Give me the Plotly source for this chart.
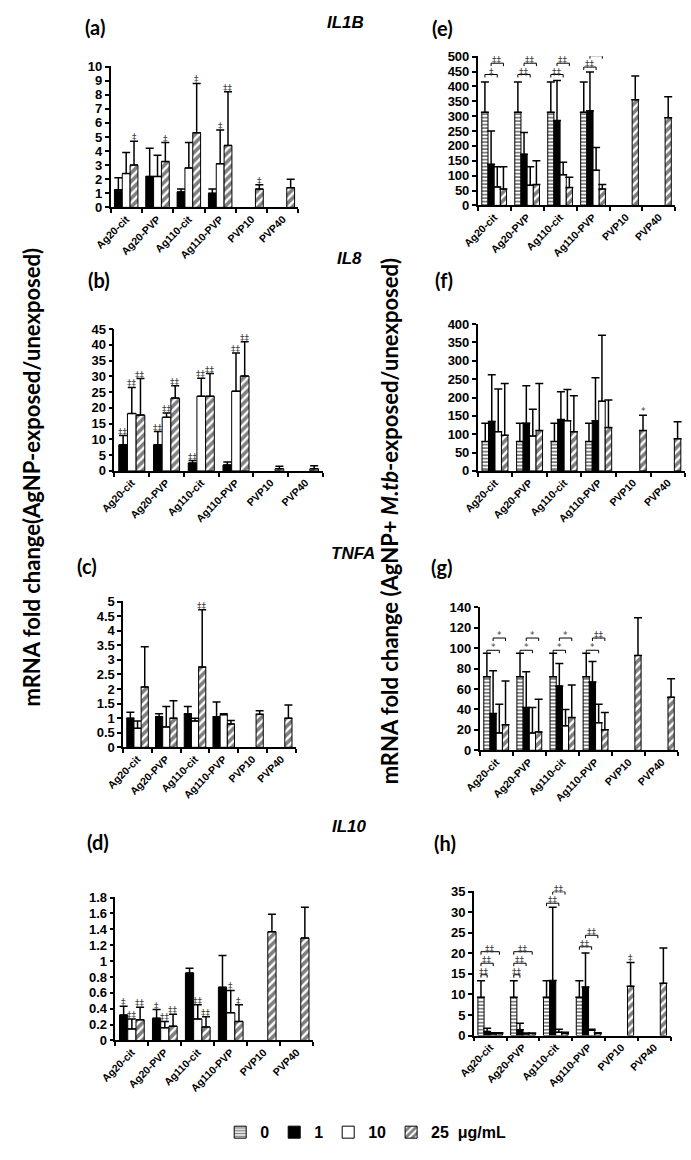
import plotly.graph_objects as go

W, H = 691, 1160

CATEGORIES = ["Ag20-cit", "Ag20-PVP", "Ag110-cit", "Ag110-PVP", "PVP10", "PVP40"]
DOSES = ["0", "1", "10", "25"]
GENES = ["IL1B", "IL8", "TNFA", "IL10"]

# ---------------- AgNP-exposed (left column) ----------------
IL1B_1 = [1.25, 2.2, 1.1, 1.0, None, None]
IL1B_1_ERR = [0.85, 2.0, 0.2, 0.3, 0, 0]
IL1B_10 = [2.4, 2.2, 2.8, 3.1, None, None]
IL1B_10_ERR = [1.5, 1.5, 1.8, 2.4, 0, 0]
IL1B_25 = [3.0, 3.25, 5.3, 4.4, 1.3, 1.4]
IL1B_25_ERR = [1.7, 1.35, 3.5, 3.8, 0.3, 0.6]

IL8_1 = [8.3, 8.3, 2.5, 1.9, None, None]
IL8_1_ERR = [2.9, 4.2, 0.8, 0.9, 0, 0]
IL8_10 = [18.2, 17.0, 23.7, 25.3, None, None]
IL8_10_ERR = [8.3, 1.4, 5.7, 12.1, 0, 0]
IL8_25 = [17.7, 23.1, 23.7, 30.1, 0.7, 0.7]
IL8_25_ERR = [11.6, 3.9, 7.2, 10.9, 0.8, 0.9]

TNFA_1 = [1.0, 1.05, 1.15, 1.05, None, None]
TNFA_1_ERR = [0.2, 0.1, 0.25, 0.5, 0, 0]
TNFA_10 = [0.65, 0.7, 0.9, 1.12, None, None]
TNFA_10_ERR = [0.25, 0.7, 0.1, 0.03, 0, 0]
TNFA_25 = [2.07, 1.0, 2.75, 0.8, 1.13, 1.0]
TNFA_25_ERR = [1.38, 0.6, 1.97, 0.12, 0.12, 0.45]

IL10_1 = [0.32, 0.28, 0.85, 0.67, None, None]
IL10_1_ERR = [0.11, 0.11, 0.06, 0.40, 0, 0]
IL10_10 = [0.145, 0.16, 0.27, 0.35, None, None]
IL10_10_ERR = [0.125, 0.08, 0.18, 0.28, 0, 0]
IL10_25 = [0.26, 0.18, 0.17, 0.24, 1.37, 1.29]
IL10_25_ERR = [0.16, 0.15, 0.13, 0.21, 0.22, 0.39]

# ---------------- AgNP + M.tb-exposed (right column) ----------------
IL1B_MTB_0 = [313, 313, 313, 313, None, None]
IL1B_MTB_0_ERR = [102, 102, 102, 102, 0, 0]
IL1B_MTB_1 = [138, 172, 285, 318, None, None]
IL1B_MTB_1_ERR = [112, 73, 135, 130, 0, 0]
IL1B_MTB_10 = [62, 68, 103, 118, None, None]
IL1B_MTB_10_ERR = [68, 62, 42, 77, 0, 0]
IL1B_MTB_25 = [55, 70, 60, 55, 355, 295]
IL1B_MTB_25_ERR = [75, 80, 35, 15, 80, 70]

IL8_MTB_0 = [80, 80, 80, 80, None, None]
IL8_MTB_0_ERR = [50, 50, 50, 50, 0, 0]
IL8_MTB_1 = [135, 130, 140, 137, None, None]
IL8_MTB_1_ERR = [127, 102, 76, 117, 0, 0]
IL8_MTB_10 = [107, 95, 137, 190, None, None]
IL8_MTB_10_ERR = [116, 73, 85, 180, 0, 0]
IL8_MTB_25 = [97, 110, 107, 118, 110, 88]
IL8_MTB_25_ERR = [141, 128, 98, 75, 42, 46]

TNFA_MTB_0 = [72, 72, 72, 72, None, None]
TNFA_MTB_0_ERR = [23, 23, 23, 23, 0, 0]
TNFA_MTB_1 = [36, 42, 63, 67, None, None]
TNFA_MTB_1_ERR = [42, 35, 22, 20, 0, 0]
TNFA_MTB_10 = [17, 17, 24, 27, None, None]
TNFA_MTB_10_ERR = [28, 25, 16, 18, 0, 0]
TNFA_MTB_25 = [25, 18, 32, 20, 93, 52]
TNFA_MTB_25_ERR = [43, 32, 32, 17, 37, 18]

IL10_MTB_0 = [9.3, 9.3, 9.3, 9.3, None, None]
IL10_MTB_0_ERR = [4.0, 4.0, 4.0, 4.0, 0, 0]
IL10_MTB_1 = [1.0, 1.4, 13.4, 11.8, None, None]
IL10_MTB_1_ERR = [0.8, 1.6, 17.8, 8.3, 0, 0]
IL10_MTB_10 = [0.4, 0.4, 0.8, 1.3, None, None]
IL10_MTB_10_ERR = [0.3, 0.2, 0.7, 0.2, 0, 0]
IL10_MTB_25 = [0.5, 0.5, 0.5, 0.5, 12.0, 12.7]
IL10_MTB_25_ERR = [0.2, 0.1, 0.3, 0.2, 5.8, 8.6]

# significance marks above single bars: (group index, dose, label)
SIG_IL1B = [(0, "25", "‡"), (1, "25", "‡"), (2, "25", "‡"), (3, "10", "‡"), (3, "25", "‡‡"), (4, "25", "‡")]
SIG_IL8 = [(0, "1", "‡‡"), (0, "10", "‡‡"), (0, "25", "‡‡"),
           (1, "1", "‡‡"), (1, "10", "‡‡"), (1, "25", "‡‡"),
           (2, "1", "‡‡"), (2, "10", "‡‡"), (2, "25", "‡‡"),
           (3, "10", "‡‡"), (3, "25", "‡‡")]
SIG_TNFA = [(2, "25", "‡‡")]
SIG_IL10 = [(0, "1", "‡"), (0, "10", "‡‡"), (0, "25", "‡‡"),
            (1, "1", "‡"), (1, "10", "‡‡"), (1, "25", "‡‡"),
            (2, "10", "‡‡"), (2, "25", "‡‡"),
            (3, "10", "‡"), (3, "25", "‡")]
SIG_IL8_MTB = [(4, "25", "*")]
SIG_IL10_MTB = [(4, "25", "‡")]

# comparison brackets: (group index, from dose, to dose, level, label)
BR_IL1B_MTB = [(0, "0", "10", 440, "‡"), (0, "1", "25", 478, "‡‡"),
               (1, "0", "10", 440, "‡‡"), (1, "1", "25", 478, "‡‡"),
               (2, "0", "10", 440, "‡‡"), (2, "1", "25", 478, "‡‡"),
               (3, "0", "10", 465, "‡‡"), (3, "1", "25", 503, "‡‡")]
BR_TNFA_MTB = [(0, "0", "10", 98, "*"), (0, "1", "25", 110, "*"),
               (1, "0", "10", 98, "*"), (1, "1", "25", 110, "*"),
               (2, "0", "10", 98, "*"), (2, "1", "25", 110, "*"),
               (3, "0", "10", 98, "*"), (3, "1", "25", 110, "‡‡")]
BR_IL10_MTB = [(0, "0", "1", 14.8, "‡‡"), (0, "0", "10", 17.6, "‡‡"), (0, "0", "25", 20.4, "‡‡"),
               (1, "0", "1", 14.8, "‡‡"), (1, "0", "10", 17.6, "‡‡"), (1, "0", "25", 20.4, "‡‡"),
               (2, "0", "10", 32.2, "‡‡"), (2, "1", "25", 35.0, "‡‡"),
               (3, "0", "10", 21.6, "‡‡"), (3, "1", "25", 24.4, "‡‡")]

# ---------------- layout helpers ----------------
BARGAP = 0.25
STYLE = {
    "0": dict(color="white", pattern=dict(shape="-", fgcolor="black", bgcolor="white", size=3.5, solidity=0.5)),
    "1": dict(color="black"),
    "10": dict(color="white"),
    "25": dict(color="white", pattern=dict(shape="/", fgcolor="black", bgcolor="white", size=6, solidity=0.6)),
}
LEGEND_NAMES = {"0": "<b>0</b>", "1": "<b>1</b>", "10": "<b>10</b>", "25": "<b>25\u00a0\u00a0μg/mL</b>"}

PANELS = [
    dict(key="a", box=(95, 60, 288, 203), ymax=10, dtick=1, ntick=10,
         series=[("1", IL1B_1, IL1B_1_ERR), ("10", IL1B_10, IL1B_10_ERR), ("25", IL1B_25, IL1B_25_ERR)],
         sig=SIG_IL1B, br=[]),
    dict(key="b", box=(99, 326, 313, 470), ymax=45, dtick=5, ntick=9,
         series=[("1", IL8_1, IL8_1_ERR), ("10", IL8_10, IL8_10_ERR), ("25", IL8_25, IL8_25_ERR)],
         sig=SIG_IL8, br=[]),
    dict(key="c", box=(108, 602, 285, 750), ymax=5, dtick=0.5, ntick=10,
         series=[("1", TNFA_1, TNFA_1_ERR), ("10", TNFA_10, TNFA_10_ERR), ("25", TNFA_25, TNFA_25_ERR)],
         sig=SIG_TNFA, br=[]),
    dict(key="d", box=(100, 902, 303, 1047), ymax=1.8, dtick=0.2, ntick=9,
         series=[("1", IL10_1, IL10_1_ERR), ("10", IL10_10, IL10_10_ERR), ("25", IL10_25, IL10_25_ERR)],
         sig=SIG_IL10, br=[]),
    dict(key="e", box=(472, 50, 675, 201), ymax=500, dtick=50, ntick=10,
         series=[("0", IL1B_MTB_0, IL1B_MTB_0_ERR), ("1", IL1B_MTB_1, IL1B_MTB_1_ERR),
                 ("10", IL1B_MTB_10, IL1B_MTB_10_ERR), ("25", IL1B_MTB_25, IL1B_MTB_25_ERR)],
         sig=[], br=BR_IL1B_MTB),
    dict(key="f", box=(472, 321, 685, 470), ymax=400, dtick=50, ntick=8,
         series=[("0", IL8_MTB_0, IL8_MTB_0_ERR), ("1", IL8_MTB_1, IL8_MTB_1_ERR),
                 ("10", IL8_MTB_10, IL8_MTB_10_ERR), ("25", IL8_MTB_25, IL8_MTB_25_ERR)],
         sig=SIG_IL8_MTB, br=[]),
    dict(key="g", box=(474, 608, 678, 753), ymax=140, dtick=20, ntick=7,
         series=[("0", TNFA_MTB_0, TNFA_MTB_0_ERR), ("1", TNFA_MTB_1, TNFA_MTB_1_ERR),
                 ("10", TNFA_MTB_10, TNFA_MTB_10_ERR), ("25", TNFA_MTB_25, TNFA_MTB_25_ERR)],
         sig=[], br=BR_TNFA_MTB),
    dict(key="h", box=(468, 896, 670, 1042), ymax=35, dtick=5, ntick=7,
         series=[("0", IL10_MTB_0, IL10_MTB_0_ERR), ("1", IL10_MTB_1, IL10_MTB_1_ERR),
                 ("10", IL10_MTB_10, IL10_MTB_10_ERR), ("25", IL10_MTB_25, IL10_MTB_25_ERR)],
         sig=SIG_IL10_MTB, br=BR_IL10_MTB),
]

PANEL_LABEL_POS = {"a": (79, 20), "b": (83, 277), "c": (71, 566), "d": (82, 846),
                   "e": (436, 21), "f": (437, 277), "g": (435, 567), "h": (438, 847)}
GENE_POS = [(336, 16), (340, 255), (344, 554), (340, 830)]

TICKF = dict(family="Liberation Sans", size=13, color="black")
XTF = dict(family="Liberation Sans", size=10.5, color="black")
SIGF = dict(family="DejaVu Sans", size=9, color="#3c3c3c")


def bar_center(group, idx, n):
    span = 1 - BARGAP
    w = span / n
    return group - span / 2 + w * (idx + 0.5)


def paper_note(px, py, text, font, angle=0):
    return dict(x=px / W, y=1 - py / H, xref="paper", yref="paper", xanchor="center",
                yanchor="middle", text=text, showarrow=False, font=font, textangle=angle)


fig = go.Figure()
annotations = []
layout_axes = {}

for i, p in enumerate(PANELS, start=1):
    xa = "x" if i == 1 else f"x{i}"
    ya = "y" if i == 1 else f"y{i}"
    x0, y0, x1, y1 = p["box"]
    n = len(p["series"])
    order = [s[0] for s in p["series"]]
    for dose, vals, errs in p["series"]:
        st = STYLE[dose]
        marker = dict(color=st["color"], line=dict(color="black", width=1))
        if "pattern" in st:
            marker["pattern"] = st["pattern"]
        fig.add_trace(go.Bar(
            x=list(range(len(CATEGORIES))), y=vals, xaxis=xa, yaxis=ya,
            name=LEGEND_NAMES[dose], legendgroup=dose, showlegend=(p["key"] == "e"),
            marker=marker,
            error_y=dict(type="data", symmetric=False, array=errs, arrayminus=[0] * len(errs),
                         color="black", thickness=1.5, width=4),
            hoverinfo="x+y",
        ))
    for g, dose, lab in p["sig"]:
        idx = order.index(dose)
        vals = p["series"][idx][1]
        errs = p["series"][idx][2]
        annotations.append(dict(x=bar_center(g, idx, n), y=vals[g] + errs[g], xref=xa, yref=ya,
                                xanchor="center", text=lab, showarrow=False, yanchor="bottom",
                                yshift=-3, font=SIGF))
    if p["br"]:
        bx, by = [], []
        drop = p["ymax"] * 3 / (y1 - y0)
        for g, d_from, d_to, lvl, lab in p["br"]:
            xa_ = bar_center(g, order.index(d_from), n)
            xb_ = bar_center(g, order.index(d_to), n)
            bx += [xa_, xa_, xb_, xb_, None]
            by += [lvl - drop, lvl, lvl, lvl - drop, None]
            annotations.append(dict(x=(xa_ + xb_) / 2, y=lvl, xref=xa, yref=ya, text=lab,
                                    xanchor="center", showarrow=False, yanchor="bottom",
                                    yshift=-4, font=SIGF))
        fig.add_trace(go.Scatter(x=bx, y=by, xaxis=xa, yaxis=ya, mode="lines",
                                 line=dict(color="black", width=1), showlegend=False,
                                 hoverinfo="skip", cliponaxis=False))

    yvals = [round(k * p["dtick"], 6) for k in range(p["ntick"] + 1)]
    layout_axes["xaxis" if i == 1 else f"xaxis{i}"] = dict(
        domain=[x0 / W, x1 / W], range=[-0.5, 5.5], anchor=ya,
        tickmode="array", tickvals=list(range(len(CATEGORIES))),
        ticktext=[f"<b>{c}</b>" for c in CATEGORIES],
        ticks="", tickangle=-45, tickfont=XTF,
        showline=True, linecolor="black", linewidth=1.5, showgrid=False, zeroline=False,
        minor=dict(tickmode="array", tickvals=[k - 0.5 for k in range(len(CATEGORIES) + 1)],
                   ticks="outside", ticklen=4, tickwidth=1.5, tickcolor="black", showgrid=False),
    )
    layout_axes["yaxis" if i == 1 else f"yaxis{i}"] = dict(
        domain=[1 - y1 / H, 1 - y0 / H], range=[0, p["ymax"] * 1.002], anchor=xa,
        tickmode="array", tickvals=yvals, ticktext=[f"<b>{v:g}</b>" for v in yvals],
        ticks="outside", ticklen=4, tickwidth=1.5, tickcolor="black",
        tickfont=TICKF, showline=True, linecolor="black", linewidth=1.5,
        showgrid=False, zeroline=False,
    )
    lx, ly = PANEL_LABEL_POS[p["key"]]
    annotations.append(paper_note(lx, ly, f"<b>({p['key']})</b>",
                                  dict(family="Lato", size=20, color="black")))

for gene, (gx, gy) in zip(GENES, GENE_POS):
    annotations.append(paper_note(gx, gy, f"<b><i>{gene}</i></b>",
                                  dict(family="Liberation Sans", size=17, color="black")))

annotations.append(paper_note(14, 477, "<b>mRNA fold change(AgNP-exposed/unexposed)</b>",
                              dict(family="Lato", size=22, color="black"), angle=-90))
annotations.append(paper_note(381, 521, "<b>mRNA fold change (AgNP+ <i>M.tb</i>-exposed/unexposed)</b>",
                              dict(family="Lato", size=22, color="black"), angle=-90))

fig.update_layout(
    width=W, height=H, margin=dict(l=0, r=0, t=0, b=0),
    paper_bgcolor="white", plot_bgcolor="white",
    barmode="group", bargap=BARGAP, bargroupgap=0,
    showlegend=True,
    legend=dict(orientation="h", x=357 / W, xanchor="center", y=1 - 1140 / H, yanchor="middle",
                font=dict(family="Liberation Sans", size=16, color="black"),
                bgcolor="rgba(0,0,0,0)", traceorder="normal", itemwidth=30),
    annotations=annotations,
    **layout_axes,
)

fig.write_html("out.html", config={"displayModeBar": False},
               post_script="document.body.style.margin='0';document.body.style.overflow='hidden';")
